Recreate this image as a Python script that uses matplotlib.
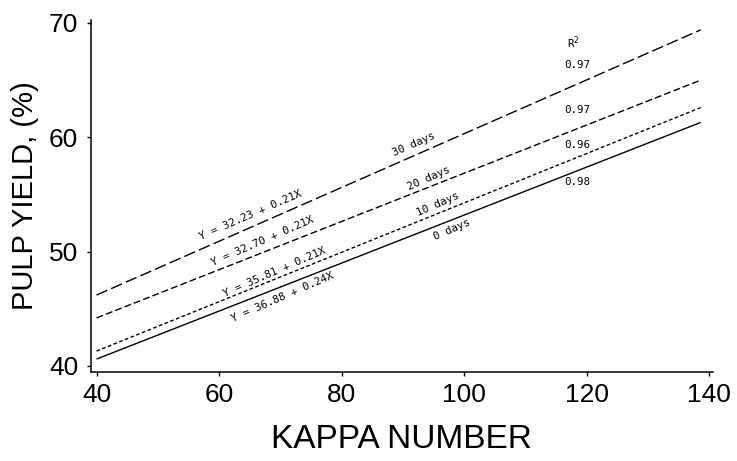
import matplotlib
matplotlib.use("Agg")
import matplotlib.pyplot as plt

# ---- data ----
series = ["0 days", "10 days", "20 days", "30 days"]
x_start = 40.0
x_end = 138.6
y_start = [40.6, 41.3, 44.2, 46.2]
y_end = [61.3, 62.6, 65.0, 69.4]

equations = ["Y = 36.88 + 0.24X", "Y = 35.81 + 0.21X",
             "Y = 32.70 + 0.21X", "Y = 32.23 + 0.21X"]
eq_pos_x = [70.4, 69.0, 67.0, 65.2]
eq_pos_y = [46.0, 48.2, 50.9, 53.2]

day_pos_x = [98.0, 95.7, 94.2, 91.8]
day_pos_y = [51.9, 54.1, 56.4, 59.4]

r2_values = ["0.98", "0.96", "0.97", "0.97"]
r2_pos_y = [56.1, 59.3, 62.4, 66.3]
r2_x = 118.4

x_ticks = [40, 60, 80, 100, 120, 140]
y_ticks = [40, 50, 60, 70]

# ---- styles ----
dash_styles = [None, (2.6, 1.8), (5.0, 2.2), (8.5, 3.0)]

plt.rcParams['font.family'] = ['Liberation Sans', 'DejaVu Sans']

fig = plt.figure(figsize=(7.37, 4.61), dpi=100)
ax = fig.add_axes([0.1231, 0.1931, 0.9674 - 0.1231, 0.9566 - 0.1931])

for i, name in enumerate(series):
    line, = ax.plot([x_start, x_end], [y_start[i], y_end[i]],
                    color='black', lw=1.0, solid_capstyle='butt')
    if dash_styles[i] is not None:
        line.set_dashes(dash_styles[i])

mono = ['DejaVu Sans Mono']
rot = 23.5
for i in range(len(series)):
    ax.text(eq_pos_x[i], eq_pos_y[i], equations[i], family=mono, fontsize=7.8,
            rotation=rot, rotation_mode='anchor', ha='center', va='center')
    ax.text(day_pos_x[i], day_pos_y[i], series[i], family=mono, fontsize=7.8,
            rotation=rot, rotation_mode='anchor', ha='center', va='center')
    ax.text(r2_x, r2_pos_y[i], r2_values[i], family=mono, fontsize=7.8,
            ha='center', va='center')
ax.text(117.8, 68.3, "R$^2$", family=mono, fontsize=7.8, ha='center', va='center')

ax.set_xlim(39.05, 140.6)
ax.set_ylim(39.47, 70.26)
ax.set_xticks(x_ticks)
ax.set_yticks(y_ticks)
ax.tick_params(axis='both', labelsize=19, direction='out', length=3, width=1.0)
ax.tick_params(axis='x', pad=5)
ax.tick_params(axis='y', pad=6)

for s in ['top', 'right']:
    ax.spines[s].set_visible(False)
for s in ['left', 'bottom']:
    ax.spines[s].set_linewidth(1.1)

ax.set_xlabel("KAPPA NUMBER", fontsize=24, labelpad=12)
ax.set_ylabel("PULP YIELD, (%)", fontsize=21, labelpad=7)

fig.savefig("out.png", dpi=100)
